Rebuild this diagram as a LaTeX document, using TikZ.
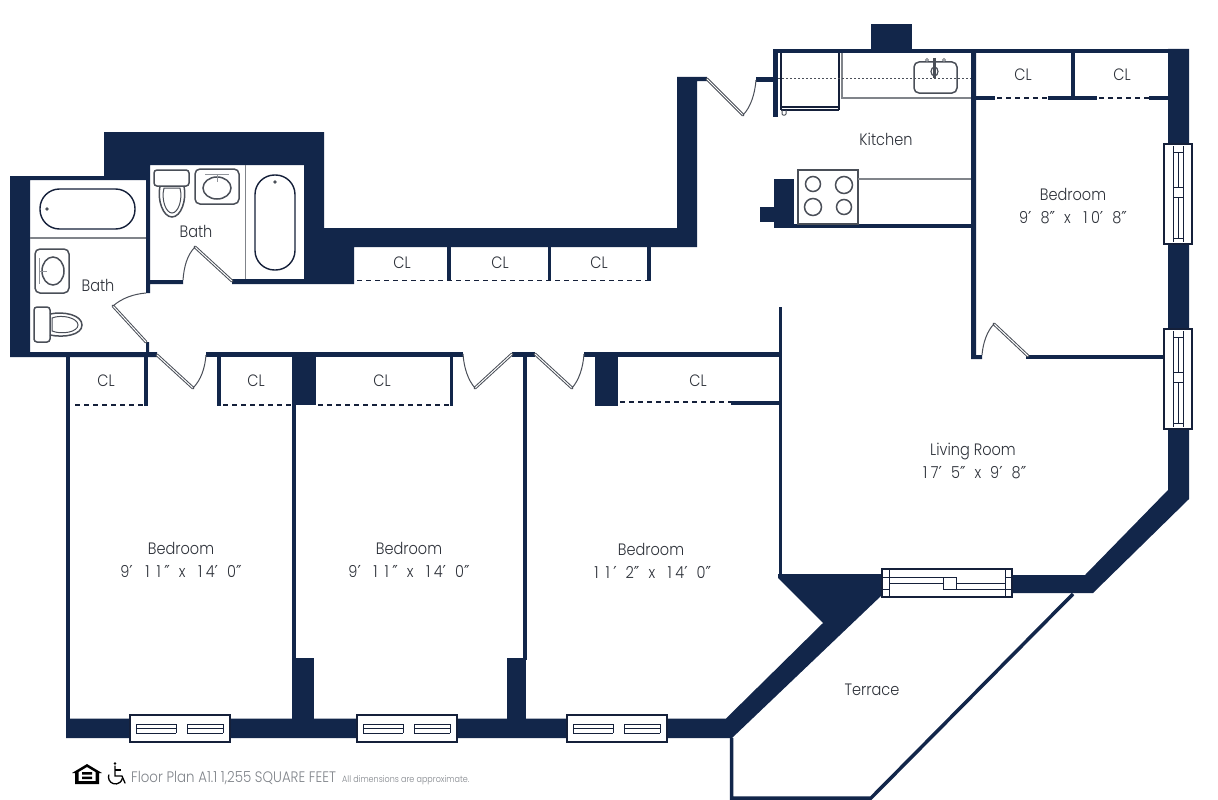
\documentclass[tikz,border=0pt]{standalone}
\usepackage{fontspec}
\setmainfont{Poppins}[UprightFont=* Light,FakeStretch=0.88,Ligatures=NoCommon]
\newfontfamily\primef{DejaVu Sans}[FakeStretch=0.9]
\newcommand{\pA}{{\primef ′}}
\newcommand{\pB}{{\primef ″}}
\newcommand{\one}{\kern3.5pt 1\kern3.5pt }
\definecolor{wallc}{HTML}{12264A}
\definecolor{inkc}{HTML}{15203A}
\definecolor{fixc}{HTML}{4A4F58}
\definecolor{txtc}{HTML}{2E323A}
\tikzset{
  wall/.style={fill=wallc,draw=none},
  lbl/.style={text=txtc,font=\fontsize{16.5}{23}\selectfont,align=center,inner sep=0pt},
  win/.style={draw=inkc,line width=1.6pt,fill=white},
  winl/.style={draw=inkc,line width=1pt},
  fix/.style={draw=fixc,line width=1.5pt},
  fixk/.style={draw=inkc,line width=1.4pt},
  part/.style={draw=fixc!70,line width=1.3pt},
  dashl/.style={draw=inkc,line width=1.8pt,dash pattern=on 5pt off 4pt},
  doorarc/.style={draw=fixc,line width=1pt},
}
\newcommand{\doorleaf}[2]{\draw[draw=fixc,line width=3pt,line cap=round] #1 -- #2; \draw[draw=white,line width=1pt] #1 -- #2;}
\newcommand{\hwin}[1]{\begin{scope}[shift={(#1)}]
  \draw[win] (0,0) rectangle (100,27);
  \draw[winl] (6,9) -- (6,18) (6,9) -- (46,9) (6,13.5) -- (46,13.5) (6,18) -- (46,18) (46,9) -- (46,18);
  \draw[winl] (57,9) -- (57,18) (57,9) -- (93,9) (57,13.5) -- (93,13.5) (57,18) -- (93,18) (93,9) -- (93,18);
\end{scope}}
\newcommand{\vwin}[1]{\begin{scope}[shift={(#1)}]
  \draw[win] (0,0) rectangle (28,100);
  \draw[winl] (9,2) -- (9,98) (19,2) -- (19,98) (14,8) -- (14,43) (14,53) -- (14,94);
  \draw[winl] (9,8) -- (19,8) (9,43) -- (19,43) (9,53) -- (19,53) (9,94) -- (19,94);
\end{scope}}
\begin{document}
\begin{tikzpicture}[x=1pt,y=-1pt]
\useasboundingbox (0,0) rectangle (1218,800);
\fill[white] (0,0) rectangle (1218,800);

% bath block and corridor north wall
\fill[wall] (10,176) -- (104,176) -- (104,132) -- (324,132) -- (324,228) -- (677,228) -- (677,77) -- (707,77) -- (707,81) -- (697,81) -- (697,247) -- (354,247) -- (354,284) -- (232,284) -- (232,279) -- (304,279) -- (304,165) -- (150,165) -- (150,280) -- (183,280) -- (183,284) -- (150,284) -- (150,293) -- (146,293) -- (146,180) -- (30,180) -- (30,352) -- (146,352) -- (146,342) -- (149,342) -- (149,352) -- (157,352) -- (157,357) -- (10,357) -- cycle;
% corridor south wall
\fill[wall] (206,352) rectangle (463,357);
\fill[wall] (512,352) rectangle (535,357);
\fill[wall] (584,352) rectangle (781,357);
% closets north
\fill[wall] (447,247) rectangle (451,281);
\fill[wall] (548,247) rectangle (551,281);
\fill[wall] (647,247) rectangle (651,281);
\draw[dashl] (357,280.5) -- (647,280.5);
% bedroom partitions
\fill[wall] (66,357) rectangle (70,720);
\fill[wall] (144,357) rectangle (148,406);
\fill[wall] (217,357) rectangle (221,406);
\fill[wall] (450,357) rectangle (453,406);
\fill[wall] (292,357) rectangle (296,660);
\fill[wall] (293,357) rectangle (316,405);
\fill[wall] (595,357) rectangle (618,406);
\fill[wall] (523,357) rectangle (527,660);
\fill[wall] (292,658) rectangle (314,720);
\fill[wall] (507,658) rectangle (526,720);
\draw[dashl] (75,405) -- (144,405);
\draw[dashl] (223,405) -- (292,405);
\draw[dashl] (318,405) -- (450,405);
\draw[dashl] (620,402) -- (731,402);
\fill[wall] (731,400.5) rectangle (780,404.5);
% south wall with diagonal
\fill[wall] (66,718.5) -- (726,718.5) -- (823,623) -- (778,578) -- (778,574) -- (885,574) -- (885,595) -- (882,595) -- (732,738) -- (66,738) -- cycle;
% living room west wall
\fill[wall] (778.5,307) rectangle (782,576);
% SE wall
\fill[wall] (1168,49) -- (1189,49) -- (1189,499) -- (1093,593) -- (1008,593) -- (1008,575) -- (1085,575) -- (1168,490) -- cycle;
% kitchen
\fill[wall] (773,49) rectangle (1170,53);
\fill[wall] (871,24) rectangle (912,50);
\fill[wall] (773,49) rectangle (778,117);
\fill[wall] (756,77) rectangle (775,82);
\fill[wall] (971,50) -- (976,50) -- (976,355) -- (982,355) -- (982,359) -- (971,359) -- cycle;
\fill[wall] (1026,355) rectangle (1166,359);
\fill[wall] (774,224) rectangle (972,228);
\fill[wall] (774,179) rectangle (794,228);
\fill[wall] (760,207) rectangle (775,222);
% right closets
\fill[wall] (1071,50) rectangle (1075,98);
\fill[wall] (975,96) rectangle (995,100);
\fill[wall] (1048,96) rectangle (1097,100);
\fill[wall] (1149,96) rectangle (1169,100);
\draw[dashl] (997,98) -- (1048,98);
\draw[dashl] (1099,98) -- (1149,98);
% terrace
\draw[draw=wallc,line width=3.5pt] (731.5,738) -- (731.5,798) -- (871,798) -- (1073,594);

% windows
\hwin{130,715}
\hwin{357,715}
\hwin{567,715}
\vwin{1164,144}
\vwin{1164,329}
\draw[win] (882,569) rectangle (1012,597);
\draw[winl] (889,569) -- (889,597) (1005,569) -- (1005,597);
\draw[winl] (882,577) -- (889,577) (1005,577) -- (1012,577) (882,589) -- (889,589) (1005,589) -- (1012,589);
\draw[winl] (889,577) -- (943,577) (889,583) -- (943,583) (943,577) rectangle (956,589) (956,583) -- (1005,583) (956,589) -- (1005,589);

% doors
\doorleaf{(232,281)}{(195,247)}
\draw[doorarc] (195,247) .. controls (187,255) and (184,267) .. (183,280);
\doorleaf{(146,342)}{(113,306)}
\draw[doorarc] (113,306) .. controls (122,298) and (134,294) .. (146,293);
\doorleaf{(157,355)}{(193,388)}
\draw[doorarc] (193,388) .. controls (201,380) and (205,368) .. (206,355);
\doorleaf{(512,354)}{(475,388)}
\draw[doorarc] (475,388) .. controls (468,380) and (464,368) .. (463,354);
\doorleaf{(535,354)}{(572,388)}
\draw[doorarc] (572,388) .. controls (579,380) and (583,368) .. (584,354);
\doorleaf{(707,79)}{(743,115)}
\draw[doorarc] (743,115) .. controls (751,107) and (755,93) .. (756,80);
\doorleaf{(1028,356)}{(994,324)}
\draw[doorarc] (994,324) .. controls (987,331) and (983,343) .. (982,355);

% bath A fixtures
\draw[fixk,rounded corners=19.5pt] (40,189) rectangle (135,229);
\fill[fixc] (47,209) circle (1.8);
\draw[part] (30,238) -- (146,238);
\draw[fix,rounded corners=5pt] (35,249) rectangle (69,293);
\draw[fix] (53,271) ellipse (11 and 14);
\draw[draw=fixc!60,line width=.8pt] (39,258) -- (39,284) (39,271) -- (47,271);
\draw[fix,rounded corners=3pt] (34,307) rectangle (50,342);
\draw[fix] (50,314) .. controls (64,311) and (82,315) .. (82,325) .. controls (82,335) and (64,338) .. (50,335);
\draw[fix,line width=1pt] (52,318) .. controls (62,314) and (78,318) .. (78,325) .. controls (78,332) and (62,335) .. (52,331) -- cycle;
% bath B fixtures
\draw[fix,rounded corners=3pt] (154,170) rectangle (189,186);
\draw[fix] (160,186) .. controls (157,200) and (163,217) .. (172,217) .. controls (181,217) and (187,200) .. (184,186);
\draw[fix,line width=1pt] (164,188) .. controls (161,200) and (166,213) .. (172,213) .. controls (178,213) and (183,200) .. (180,188) -- cycle;
\draw[fix,rounded corners=5pt] (195,169) rectangle (239,204);
\draw[fix] (217,188) ellipse (14 and 11);
\draw[draw=fixc!60,line width=.8pt] (205,174) -- (229,174) (217,174) -- (217,182);
\draw[part] (245.5,165) -- (245.5,279);
\draw[fixk,rounded corners=19.5pt] (255,175) rectangle (295,270);
\fill[fixc] (275,182) circle (1.8);

% kitchen fixtures
\draw[fixk] (781,53) -- (781,107) -- (839,107) -- (839,53);
\draw[fixk] (781,110) -- (839,110) (781,107) -- (781,110) (839,107) -- (839,110);
\draw[draw=fixc,line width=1pt,rounded corners=1pt] (782,110) -- (782,115) -- (786,115) -- (786,110);
\draw[part] (842,53) -- (842,98) -- (971,98);
\draw[draw=fixc,line width=.8pt,dash pattern=on 2pt off 2pt] (778,78) -- (971,78);
\draw[fix,rounded corners=5pt] (914,62) rectangle (957,93);
\draw[draw=fixc,line width=2.5pt] (934.5,58) -- (934.5,78);
\draw[draw=fixc,line width=1.2pt] (934.5,71.5) ellipse (3.5 and 4.5);
\draw[draw=fixc!70,line width=1pt] (927,60) circle (1.5) (944,60) circle (1.5);
\draw[draw=fixc,line width=1.3pt,fill=white] (798,170) rectangle (858,224);
\draw[fix] (813,184) circle (7.5) (844,185) circle (8.5) (813,207) circle (8.5) (844,207) circle (7.5);
\draw[part] (858,179) -- (971,179);

% labels
\node[lbl] (kit) at (886,139) {Kitchen};
\node[lbl] (bed4) at (1073,206) {Bedroom\\9\pA\hspace{9pt}8\pB\hspace{9pt}x\hspace{9pt}\one 0\pA\hspace{9pt}8\pB};
\node[lbl] (liv) at (973,461) {Living Room\\\one 7\pA\hspace{9pt}5\pB\hspace{9pt}x\hspace{9pt}9\pA\hspace{9pt}8\pB};
\node[lbl] (bed1) at (181,560) {Bedroom\\9\pA\hspace{9pt}\one\one\pB\hspace{9pt}x\hspace{9pt}\one 4\pA\hspace{9pt}0\pB};
\node[lbl] (bed2) at (409,560) {Bedroom\\9\pA\hspace{9pt}\one\one\pB\hspace{9pt}x\hspace{9pt}\one 4\pA\hspace{9pt}0\pB};
\node[lbl] (bed3) at (651,561) {Bedroom\\\one\one\pA\hspace{9pt}2\pB\hspace{9pt}x\hspace{9pt}\one 4\pA\hspace{9pt}0\pB};
\node[lbl] (ter) at (872,690) {Terrace};
\node[lbl] (ba1) at (196,231) {Bath};
\node[lbl] (ba2) at (98,285) {Bath};
\node[lbl] (c1) at (1023,75) {CL};
\node[lbl] (c2) at (1122,75) {CL};
\node[lbl] (c3) at (402,263) {CL};
\node[lbl] (c4) at (500,263) {CL};
\node[lbl] (c5) at (599,263) {CL};
\node[lbl] (c6) at (106,381) {CL};
\node[lbl] (c7) at (256,381) {CL};
\node[lbl] (c8) at (382,381) {CL};
\node[lbl] (c9) at (698,381) {CL};

% footer icons
\fill[black,even odd rule] (72,773) -- (87,764) -- (102,773) -- (99,773) -- (99,784) -- (75,784) -- (75,773) -- cycle
  (78.5,772) -- (78.5,781) -- (95.5,781) -- (95.5,772) -- (87,767) -- cycle;
\fill[black] (82,772) rectangle (92,774.5) (82,776.5) rectangle (92,779);
\draw[black,line width=1.3pt,line cap=round] (115,766) -- (115,776) -- (122,776) -- (125,783);
\fill[black] (115,763.5) circle (1.3);
\draw[black,line width=1.2pt] (115,770) -- (121,770);
\draw[black,line width=1.3pt] (108.9,774.6) arc[start angle=200,end angle=10,radius=7];
% footer text
\node[anchor=base west,inner sep=0pt,text=fixc!70,font=\fontsize{15.2}{17}\selectfont] (fp) at (131,782) {Floor Plan A1.1 1,255 SQUARE FEET};
\node[anchor=base west,inner sep=0pt,text=fixc!70,font=\fontsize{9.1}{11}\selectfont] (fd) at (342,782) {All dimensions are approximate.};
\end{tikzpicture}
\end{document}
